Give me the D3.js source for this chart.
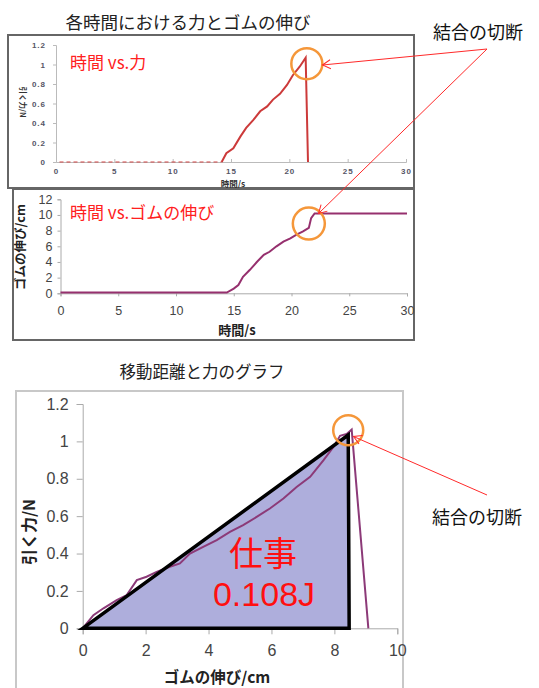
<!DOCTYPE html>
<html>
<head>
  <meta charset="utf-8">
  <title>力とゴムの伸び</title>
  <script src="https://d3js.org/d3.v7.min.js"></script>
  <style>
    body { margin: 0; background: #fff; }
    svg text { font-family: "Noto Sans CJK JP", sans-serif; }
    .tick text { font-family: "Liberation Sans", Arial, sans-serif; }
  </style>
</head>
<body>
  <div id="chart"></div>

  <script>
    // 時間 vs.力 (上のグラフ)
    const topTime  = [0.3, 14.2, 14.6, 15.2, 15.8, 16.3, 16.9, 17.5, 18.1, 18.6, 19.2, 19.8, 20.3, 20.9, 21.4, 21.6];
    const topForce = [0, 0, 0.09, 0.14, 0.26, 0.35, 0.43, 0.52, 0.57, 0.64, 0.70, 0.79, 0.89, 0.98, 1.07, 0];
    const topXTicks = [0, 5, 10, 15, 20, 25, 30];
    const topYTicks = [0, 0.2, 0.4, 0.6, 0.8, 1, 1.2];

    // 時間 vs.ゴムの伸び (中のグラフ)
    const midTime    = [0, 14.4, 15.0, 15.4, 15.8, 16.4, 17.0, 17.6, 18.1, 18.7, 19.3, 19.9, 20.4, 21.0, 21.5, 21.7, 22.0, 30];
    const midStretch = [0.1, 0.1, 0.6, 1.06, 2.1, 3.0, 4.0, 4.9, 5.3, 6.0, 6.6, 7.0, 7.45, 7.9, 8.35, 9.6, 10.2, 10.2];
    const midXTicks = [0, 5, 10, 15, 20, 25, 30];
    const midYTicks = [0, 2, 4, 6, 8, 10, 12];

    // 移動距離と力のグラフ (下のグラフ)
    const botStretch = [0, 0.34, 0.66, 1.08, 1.40, 1.72, 2.03, 2.35, 2.77, 3.09, 3.41, 3.83, 4.26, 4.68, 5.10, 5.53, 5.95, 6.38, 6.80, 7.23, 7.65, 7.97, 8.18, 8.39, 8.55, 9.08];
    const botForce   = [0, 0.07, 0.107, 0.151, 0.178, 0.258, 0.276, 0.302, 0.329, 0.347, 0.40, 0.436, 0.472, 0.516, 0.552, 0.596, 0.641, 0.694, 0.756, 0.810, 0.899, 0.970, 1.03, 1.04, 1.063, 0];
    const triStretch = [0, 8.44, 8.47];
    const triForce   = [0, 1.034, 0];
    const botXTicks = [0, 2, 4, 6, 8, 10];
    const botYTicks = [0, 0.2, 0.4, 0.6, 0.8, 1, 1.2];

    const W = 539, H = 688;
    const svg = d3.select("#chart").append("svg")
      .attr("width", W).attr("height", H);

    const defs = svg.append("defs");
    defs.append("marker")
      .attr("id", "arrow")
      .attr("viewBox", "-10 -6 12 12")
      .attr("markerWidth", 12).attr("markerHeight", 12)
      .attr("markerUnits", "userSpaceOnUse")
      .attr("orient", "auto")
      .append("path")
      .attr("d", "M-8,-4.5 L0,0 L-8,4.5")
      .attr("fill", "none")
      .attr("stroke", "#ff2a2a")
      .attr("stroke-width", 1);

    // ---------- 上のグラフ ----------
    svg.append("text")
      .attr("x", 188).attr("y", 29)
      .attr("text-anchor", "middle")
      .attr("font-size", 17.5)
      .attr("fill", "#222")
      .text("各時間における力とゴムの伸び");

    svg.append("rect")
      .attr("x", 8).attr("y", 35).attr("width", 406).attr("height", 153)
      .attr("fill", "#fff").attr("stroke", "#666").attr("stroke-width", 2);

    const x1 = d3.scaleLinear().domain([0, 30]).range([56, 406]);
    const y1 = d3.scaleLinear().domain([0, 1.2]).range([162, 45]);

    const ax1 = svg.append("g")
      .attr("transform", "translate(0,162)")
      .call(d3.axisBottom(x1).tickValues(topXTicks).tickSize(-3).tickPadding(6));
    const ay1 = svg.append("g")
      .attr("transform", "translate(56,0)")
      .call(d3.axisLeft(y1).tickValues(topYTicks).tickSize(3).tickFormat(d3.format("~g")));
    [ax1, ay1].forEach(g => {
      g.selectAll("path, line").attr("stroke", "#bbb");
      g.selectAll("text").attr("font-size", 8).attr("font-weight", "bold")
        .attr("fill", "#556").attr("letter-spacing", 1);
    });
    ay1.selectAll("text").attr("x", -10);

    const line1 = d3.line().x(d => x1(d[0])).y(d => y1(d[1]));
    const pts1 = topTime.map((t, i) => [t, topForce[i]]);
    // 立ち上がり前のゼロ付近は点線状
    svg.append("path")
      .datum(pts1.slice(0, 2))
      .attr("fill", "none")
      .attr("stroke", "#d04545")
      .attr("stroke-width", 1.2)
      .attr("stroke-dasharray", "4,3")
      .attr("d", line1);
    svg.append("path")
      .datum(pts1.slice(1))
      .attr("fill", "none")
      .attr("stroke", "#cc3a3a")
      .attr("stroke-width", 2)
      .attr("d", line1);

    svg.append("text")
      .attr("transform", "translate(20,102) rotate(90)")
      .attr("text-anchor", "middle")
      .attr("font-size", 7.5).attr("font-weight", "bold").attr("fill", "#333")
      .text("引く力/N");

    svg.append("text")
      .attr("x", 233).attr("y", 187)
      .attr("text-anchor", "middle")
      .attr("font-size", 8.5).attr("font-weight", "bold").attr("fill", "#333")
      .text("時間/s");

    svg.append("text")
      .attr("x", 70).attr("y", 69)
      .attr("font-size", 17).attr("fill", "#ff2020")
      .text("時間 vs.力");

    // ---------- 中のグラフ ----------
    svg.append("rect")
      .attr("x", 13).attr("y", 189).attr("width", 401).attr("height", 151)
      .attr("fill", "#fff").attr("stroke", "#666").attr("stroke-width", 2);

    const x2 = d3.scaleLinear().domain([0, 30]).range([60.5, 407]);
    const y2 = d3.scaleLinear().domain([0, 12]).range([293.3, 199.3]);

    const ax2 = svg.append("g")
      .attr("transform", "translate(0,293.3)")
      .call(d3.axisBottom(x2).tickValues(midXTicks).tickSize(3).tickPadding(10));
    const ay2 = svg.append("g")
      .attr("transform", "translate(60.5,0)")
      .call(d3.axisLeft(y2).tickValues(midYTicks).tickSize(3).tickPadding(5));
    [ax2, ay2].forEach(g => {
      g.selectAll("path, line").attr("stroke", "#aaa");
      g.selectAll("text").attr("font-size", 12.5).attr("fill", "#444");
    });

    svg.append("path")
      .datum(midTime.map((t, i) => [t, midStretch[i]]))
      .attr("fill", "none")
      .attr("stroke", "#96306e")
      .attr("stroke-width", 2)
      .attr("d", d3.line().x(d => x2(d[0])).y(d => y2(d[1])));

    svg.append("text")
      .attr("transform", "translate(25,247) rotate(-90)")
      .attr("text-anchor", "middle")
      .attr("font-size", 12.5).attr("font-weight", "bold").attr("fill", "#222")
      .text("ゴムの伸び/cm");

    svg.append("text")
      .attr("x", 237).attr("y", 335)
      .attr("text-anchor", "middle")
      .attr("font-size", 13).attr("font-weight", "bold").attr("fill", "#222")
      .text("時間/s");

    svg.append("text")
      .attr("x", 70).attr("y", 219)
      .attr("font-size", 17).attr("fill", "#ff2020")
      .text("時間 vs.ゴムの伸び");

    // ---------- 下のグラフ ----------
    svg.append("text")
      .attr("x", 202).attr("y", 378)
      .attr("text-anchor", "middle")
      .attr("font-size", 16.5).attr("fill", "#222")
      .text("移動距離と力のグラフ");

    svg.append("rect")
      .attr("x", 16).attr("y", 391).attr("width", 387).attr("height", 320)
      .attr("fill", "#fff").attr("stroke", "#c8c8c8").attr("stroke-width", 2);

    const x3 = d3.scaleLinear().domain([0, 10]).range([82.7, 397.3]);
    const y3 = d3.scaleLinear().domain([0, 1.2]).range([628.3, 404]);

    const ax3 = svg.append("g")
      .attr("transform", "translate(0,628.3)")
      .call(d3.axisBottom(x3).tickValues(botXTicks).tickSize(6).tickPadding(10));
    const ay3 = svg.append("g")
      .attr("transform", "translate(82.7,0)")
      .call(d3.axisLeft(y3).tickValues(botYTicks).tickSize(6).tickPadding(8).tickFormat(d3.format("~g")));
    [ax3, ay3].forEach(g => {
      g.selectAll("path, line").attr("stroke", "#aaa");
      g.selectAll("text").attr("font-size", 16).attr("fill", "#444");
    });

    const line3 = d3.line().x(d => x3(d[0])).y(d => y3(d[1]));
    const tri = triStretch.map((s, i) => [s, triForce[i]]);

    svg.append("path")
      .datum(tri)
      .attr("fill", "#aeaedc")
      .attr("stroke", "none")
      .attr("d", d => line3(d) + "Z");

    svg.append("path")
      .datum(botStretch.map((s, i) => [s, botForce[i]]))
      .attr("fill", "none")
      .attr("stroke", "#8c3a78")
      .attr("stroke-width", 2)
      .attr("d", line3);

    svg.append("path")
      .datum(tri)
      .attr("fill", "none")
      .attr("stroke", "#000")
      .attr("stroke-width", 3.5)
      .attr("stroke-linejoin", "miter")
      .attr("d", d => line3(d) + "Z");

    svg.append("text")
      .attr("transform", "translate(35,532) rotate(-90)")
      .attr("text-anchor", "middle")
      .attr("font-size", 16).attr("font-weight", "bold").attr("fill", "#222")
      .text("引く力/N");

    svg.append("text")
      .attr("x", 217).attr("y", 683)
      .attr("text-anchor", "middle")
      .attr("font-size", 15.5).attr("font-weight", "bold").attr("fill", "#222")
      .text("ゴムの伸び/cm");

    // 仕事 0.108J (2行で1つのテキスト)
    const work = svg.append("text")
      .attr("text-anchor", "middle")
      .attr("fill", "#ff1010");
    work.append("tspan")
      .attr("x", 263).attr("y", 566)
      .attr("font-size", 34)
      .text("仕事");
    work.append("tspan")
      .attr("x", 264).attr("y", 606)
      .attr("font-family", "Liberation Sans, Arial, sans-serif")
      .attr("font-size", 34)
      .text("0.108J");

    // ---------- 切断の印 ----------
    const circles = [
      [x1(21.5), y1(1.07) + 6, 15.5],
      [x2(21.5), y2(8.9), 16],
      [x3(8.44), y3(1.06), 15]
    ];
    svg.selectAll(".break-circle")
      .data(circles)
      .enter().append("circle")
      .attr("class", "break-circle")
      .attr("cx", d => d[0]).attr("cy", d => d[1]).attr("r", d => d[2])
      .attr("fill", "none")
      .attr("stroke", "#f5973a")
      .attr("stroke-width", 2.5);

    const arrows = [
      [487, 49, 322.5, 65],
      [487, 49, 318.5, 213.5],
      [487, 495, 353.5, 436.5]
    ];
    svg.selectAll(".break-arrow")
      .data(arrows)
      .enter().append("line")
      .attr("class", "break-arrow")
      .attr("x1", d => d[0]).attr("y1", d => d[1])
      .attr("x2", d => d[2]).attr("y2", d => d[3])
      .attr("stroke", "#ff2a2a")
      .attr("stroke-width", 1)
      .attr("marker-end", "url(#arrow)");

    svg.append("text")
      .attr("x", 433).attr("y", 39)
      .attr("font-size", 18).attr("fill", "#111")
      .text("結合の切断");

    svg.append("text")
      .attr("x", 432).attr("y", 524)
      .attr("font-size", 18).attr("fill", "#111")
      .text("結合の切断");
  </script>
</body>
</html>
